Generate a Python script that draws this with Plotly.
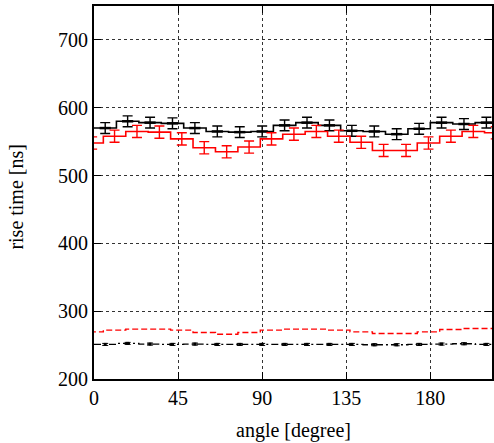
import plotly.graph_objects as go

# ---- data ----
bin_width = 12
black_centers = [6, 18, 30, 42, 54, 66, 78, 90, 102, 114, 126, 138, 150, 162, 174, 186, 198, 210]
black_rise = [570, 580, 578, 577, 570, 565, 564, 565, 574, 578, 574, 566, 565, 561, 569, 578, 576, 578]
black_err = [8] * 18
black_low = [251, 252.5, 251.5, 251, 251.5, 251, 251, 251, 251, 251, 251, 251, 250.5, 250.5, 251, 251.5, 252, 251]
black_low_err = [1.5] * 18

red_centers = [-1, 11, 23, 35, 47, 59, 71, 83, 95, 107, 119, 131, 143, 155, 167, 179, 191, 203, 215]
red_rise = [548, 558, 565, 564, 554, 541, 535, 542, 554, 561, 565, 558, 549, 537, 537, 548, 558, 565, 563]
red_err = [9] * 19
red_low = [269.5, 272, 273.5, 273.5, 272, 268.5, 266, 268.5, 272, 273.5, 273.5, 272, 269.5, 267, 267, 269.5, 273, 274.5, 274.5]

x_ticks = [0, 45, 90, 135, 180]
y_ticks = [200, 300, 400, 500, 600, 700]


def steps(centers, values):
    xs = [c - bin_width / 2 for c in centers] + [centers[-1] + bin_width / 2]
    ys = list(values) + [values[-1]]
    return xs, ys


fig = go.Figure()

# black upper histogram
sx, sy = steps(black_centers, black_rise)
fig.add_trace(go.Scatter(x=sx, y=sy, mode="lines", line=dict(color="black", width=1.6, shape="hv"),
                         showlegend=False, hoverinfo="skip"))
fig.add_trace(go.Scatter(x=black_centers, y=black_rise, mode="markers",
                         marker=dict(symbol="line-ew", size=8, line=dict(color="black", width=2.5)),
                         error_y=dict(type="data", array=black_err, color="black", thickness=1.4, width=5),
                         showlegend=False))

# red upper histogram
sx, sy = steps(red_centers, red_rise)
fig.add_trace(go.Scatter(x=sx, y=sy, mode="lines", line=dict(color="#ff0000", width=1.6, shape="hv"),
                         showlegend=False, hoverinfo="skip"))
fig.add_trace(go.Scatter(x=red_centers, y=red_rise, mode="markers",
                         marker=dict(size=1, color="rgba(0,0,0,0)"),
                         error_y=dict(type="data", array=red_err, color="#ff0000", thickness=1.4, width=5),
                         showlegend=False))

# red lower dashed
sx, sy = steps(red_centers, red_low)
fig.add_trace(go.Scatter(x=sx, y=sy, mode="lines",
                         line=dict(color="#ff0000", width=1.4, shape="hv", dash="6px,3px"),
                         showlegend=False, hoverinfo="skip"))

# black lower dash-dot
sx, sy = steps(black_centers, black_low)
fig.add_trace(go.Scatter(x=sx, y=sy, mode="lines",
                         line=dict(color="black", width=1.3, shape="hv", dash="7px,3px,2px,3px"),
                         showlegend=False, hoverinfo="skip"))
fig.add_trace(go.Scatter(x=black_centers, y=black_low, mode="markers",
                         marker=dict(symbol="square", size=3, color="black"),
                         error_y=dict(type="data", array=black_low_err, color="black", thickness=1, width=3),
                         showlegend=False))

font = "Liberation Serif, Times New Roman, serif"
fig.update_layout(
    width=494, height=443,
    margin=dict(l=94, r=2, t=6, b=64, autoexpand=False),
    paper_bgcolor="white", plot_bgcolor="white",
    font=dict(family=font, size=20, color="black"),
    xaxis=dict(range=[0, 213], tickvals=x_ticks, ticks="inside", ticklen=7, tickwidth=1.2,
               tickcolor="black", showline=True, linecolor="black", linewidth=2, mirror="ticks",
               showgrid=True, gridcolor="#333", griddash="dot", gridwidth=1, zeroline=False,
               automargin=False, tickfont=dict(size=20)),
    yaxis=dict(range=[200, 750], tickvals=y_ticks, ticks="inside", ticklen=7, tickwidth=1.2,
               tickcolor="black", showline=True, linecolor="black", linewidth=2, mirror="ticks",
               showgrid=True, gridcolor="#333", griddash="dot", gridwidth=1, zeroline=False,
               automargin=False, tickfont=dict(size=20)),
    annotations=[
        dict(text="angle [degree]", xref="paper", yref="paper", x=0.5, y=-0.138,
             xanchor="center", yanchor="middle", showarrow=False, font=dict(size=20)),
        dict(text="rise time [ns]", xref="paper", yref="paper", x=-0.195, y=0.49,
             xanchor="center", yanchor="middle", textangle=-90, showarrow=False, font=dict(size=20)),
    ],
)

fig.write_html("out.html", config={"displayModeBar": False},
               post_script="document.body.style.margin='0px';document.body.style.padding='0px';")
